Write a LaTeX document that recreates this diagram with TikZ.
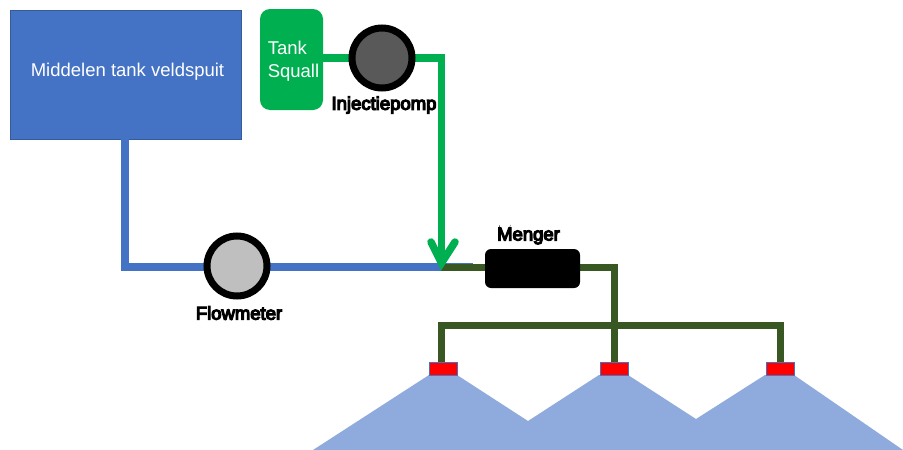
\documentclass[tikz,border=0pt]{standalone}
\usepackage{fontspec}
\setmainfont{Liberation Sans}
\definecolor{tankblue}{HTML}{4472C4}
\definecolor{sprayblue}{HTML}{8FAADC}
\definecolor{squallgreen}{HTML}{00B050}
\definecolor{mixgreen}{HTML}{385723}
\definecolor{redcap}{HTML}{FF0000}
\tikzset{
  bluepipe/.style={draw=tankblue,line width=8pt},
  greenpipe/.style={draw=squallgreen,line width=7.5pt},
  darkpipe/.style={draw=mixgreen,line width=7pt},
  pump/.style={circle,draw=black,line width=7pt,minimum size=60pt,inner sep=0pt},
  whitetext/.style={text=white,font=\fontsize{18.5}{23}\selectfont,align=left,inner sep=0pt},
  heavylabel/.style={text=black,font=\fontsize{18.5}{20}\selectfont,inner sep=0pt},
  nozzle/.style={rectangle,draw=tankblue,line width=1pt,fill=redcap,minimum width=28pt,minimum height=13pt,inner sep=0pt},
}
\newcommand{\heavy}[1]{\special{pdf:literal q 2 Tr 1.2 w}#1\special{pdf:literal Q}}
\begin{document}
\begin{tikzpicture}[x=1pt,y=-1pt]
\useasboundingbox (0,0) rectangle (903,450);
% spray
\fill[sprayblue] (313,450) -- (429,375) -- (457,375) -- (528,421) -- (599,375) -- (628,375) -- (696,419) -- (765,375) -- (794,375) -- (903,450) -- cycle;
% nodes
\node[rectangle,draw=tankblue!80!black,line width=0.6pt,fill=tankblue,minimum width=231pt,minimum height=129pt,inner sep=0pt] (tank) at (125.5,74.5) {};
\node[whitetext] (tanklabel) at (127.5,72) {Middelen tank veldspuit};
\node[rectangle,rounded corners=10pt,fill=squallgreen,minimum width=63pt,minimum height=101pt,inner sep=0pt] (squall) at (291.5,59.5) {};
\node[whitetext] (squalllabel) at (293.5,61.5) {Tank\\Squall};
\coordinate (tankout) at (125,139);
\coordinate (bluecorner) at (125,267);
\coordinate (blueend) at (473,267);
\coordinate (greencorner) at (441.5,58);
\coordinate (tip) at (441.5,263);
\coordinate (junction) at (441,267.5);
\coordinate (tiplEft) at (431,242);
\coordinate (tipRight) at (455,242);
\coordinate (dcorner) at (614,267.5);
\coordinate (mleft) at (441,325);
\coordinate (mright) at (780,325);
\node[nozzle] (n1) at (443,369) {};
\node[nozzle] (n2) at (614,369) {};
\node[nozzle] (n3) at (780,368.5) {};
% pipes
\draw[bluepipe,line join=miter] (tankout) -- (bluecorner) -- (blueend);
\draw[greenpipe,line join=miter] (squall.east |- greencorner) -- (greencorner) -- (tip);
\draw[darkpipe] (junction) -- (485,267.5);
\draw[darkpipe,line join=miter] (580,267.5) -- (dcorner) -- (n2.north);
\draw[darkpipe,line join=miter] (n1.north -| mleft) -- (mleft) -- (mright) -- (n3.north -| mright);
% arrow head
\draw[greenpipe,line cap=round,line join=miter] (tiplEft) -- (tip) -- (tipRight);
% pumps
\node[pump,fill=black!65] (inj) at (382,58) {};
\node[pump,fill=black!25] (flow) at (237,266) {};
\node[rectangle,rounded corners=6pt,fill=black,minimum width=95pt,minimum height=39pt,inner sep=0pt] (mix) at (532.5,268.5) {};
% labels
\node[heavylabel] (injlabel) at (384,105) {\heavy{Injectiepomp}};
\node[heavylabel] (flowlabel) at (239,313) {\heavy{Flowmeter}};
\node[heavylabel] (mixlabel) at (528.5,236) {\heavy{Menger}};
\end{tikzpicture}
\end{document}
